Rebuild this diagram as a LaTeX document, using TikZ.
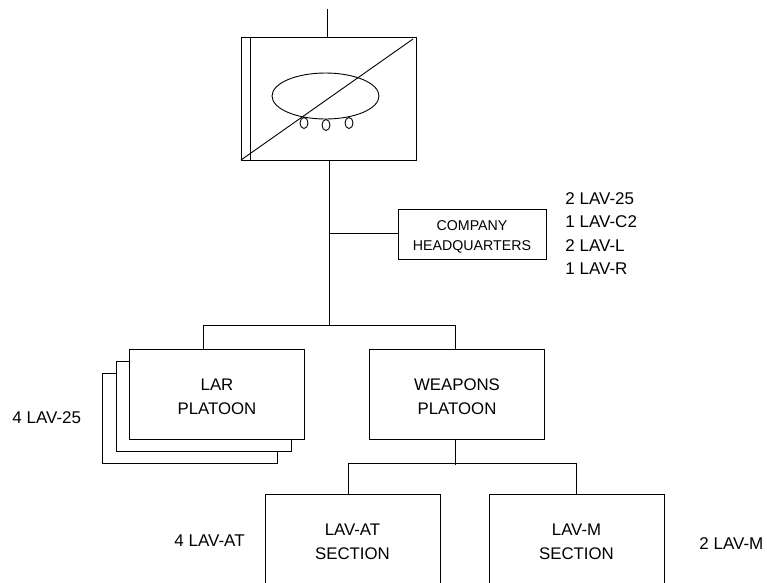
\documentclass[tikz,border=0pt]{standalone}
\usepackage{fontspec}
\setmainfont{Liberation Sans}
\usetikzlibrary{positioning,shapes.geometric}

\begin{document}
\begin{tikzpicture}[
x=1pt, y=-1pt, line width=0.9pt,
unit/.style={draw, fill=white, outer sep=0pt, minimum width=175pt, minimum height=90pt, align=center, text height=41pt, font=\fontsize{16.8}{23.5}\selectfont},
hqbox/.style={draw, outer sep=0pt, minimum width=148pt, minimum height=50pt, align=center, text height=36.5pt, font=\fontsize{14.2}{20}\selectfont},
count/.style={anchor=west, inner sep=0pt, font=\fontsize{17}{23}\selectfont},
wheel/.style={draw, ellipse, outer sep=0pt, inner sep=0pt, minimum width=8pt, minimum height=11pt}
]
\useasboundingbox (0,0) rectangle (767,582);
\clip (0,0) rectangle (767,582);

% Company symbol
\node[draw, outer sep=0pt, minimum width=175pt, minimum height=123pt] (company) at (328.5,98.5) {};
\draw (company.south west) -- (413,39);
\draw ([xshift=9pt]company.south west) -- ([xshift=9pt]company.north west);
\node[draw, ellipse, outer sep=0pt, inner sep=0pt, minimum width=107pt, minimum height=46pt] (hull) at (325.5,96) {};
\node[wheel] (wheela) at (304,123) {};
\node[wheel] (wheelb) at (326,125) {};
\node[wheel] (wheelc) at (349,123) {};

% Company headquarters
\node[hqbox] (hq) at (472,234) {COMPANY\\HEADQUARTERS};
\node[count] (lava) at (565,198.5) {2 LAV-25};
\node[count] (lavb) at (565,222) {1 LAV-C2};
\node[count] (lavc) at (565,246) {2 LAV-L};
\node[count] (lavd) at (565,269) {1 LAV-R};

% Platoons
\node[unit] (larc) at (189.5,418) {};
\node[unit] (larb) at (203.5,406) {};
\node[unit] (lar) at (217,394) {LAR\\PLATOON};
\node[unit, right=65pt of lar] (weapons) {WEAPONS\\PLATOON};
\node[count] (larcount) at (12,418) {4 LAV-25};

% Sections
\node[unit] (at) at (352.5,539) {LAV-AT\\SECTION};
\node[unit, right=49pt of at] (m) {LAV-M\\SECTION};
\node[count] (atcount) at (174,541) {4 LAV-AT};
\node[count] (mcount) at (699,543.5) {2 LAV-M};

% Connections
\coordinate (top) at (327,9);
\coordinate (barmid) at (329,325);
\coordinate (hqtap) at (329,233);
\coordinate (barl) at (203,325);
\coordinate (barr) at (455,325);
\coordinate (secmid) at (455,465);
\coordinate (secl) at (348,463);
\coordinate (secr) at (576,463);

\draw (top) -- (company.north -| top);
\draw (company.south -| barmid) -- (barmid);
\draw (hqtap) -- (hq.west |- hqtap);
\draw (lar.north -| barl) -- (barl) -- (barr) -- (weapons.north -| barr);
\draw (weapons.south -| secmid) -- (secmid);
\draw (at.north -| secl) -- (secl) -- (secr) -- (m.north -| secr);

\end{tikzpicture}
\end{document}
